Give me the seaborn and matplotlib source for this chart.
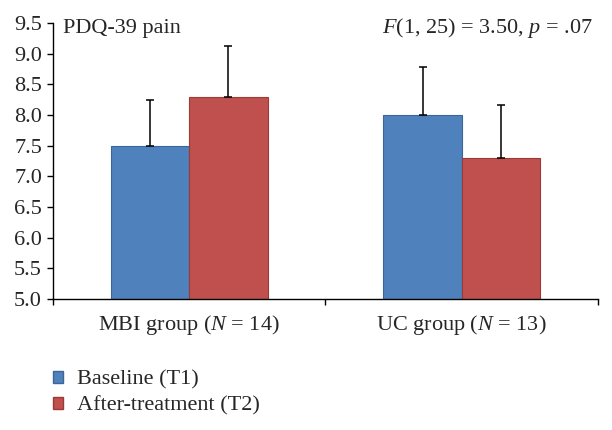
import matplotlib
matplotlib.use("Agg")
import matplotlib.pyplot as plt
import seaborn as sns
import pandas as pd
import numpy as np
from matplotlib.container import BarContainer
from matplotlib.patches import Patch

groups = ["MBI group ($N$ = 14)", "UC group ($N$ = 13)"]
conditions = ["Baseline (T1)", "After-treatment (T2)"]
baseline = [7.5, 8.0]
after = [8.3, 7.3]
baseline_sd = [0.75, 0.78]
after_sd = [0.82, 0.87]
colors = ["#4F81BD", "#C0504D"]
edge_colors = ["#3A6699", "#9A3B38"]

sns.set_theme(style="white")
plt.rcParams["font.family"] = ["Liberation Serif", "DejaVu Serif"]
plt.rcParams["mathtext.fontset"] = "custom"
plt.rcParams["mathtext.it"] = "Liberation Serif:italic"
plt.rcParams["mathtext.rm"] = "Liberation Serif"

FS = 16

df = pd.DataFrame({
    "group": groups * 2,
    "condition": [conditions[0]] * 2 + [conditions[1]] * 2,
    "value": baseline + after,
})

fig = plt.figure(figsize=(6.12, 4.30), dpi=100)
ax = fig.add_axes([0.0866, 0.3047, 0.8905, 0.642])

sns.barplot(data=df, x="group", y="value", hue="condition", palette=colors,
            width=0.575, ax=ax, legend=False, errorbar=None, saturation=1)

bar_containers = [c for c in ax.containers if isinstance(c, BarContainer)]
for ci, cont in enumerate(bar_containers):
    sds = baseline_sd if ci == 0 else after_sd
    vals = baseline if ci == 0 else after
    for bi, bar in enumerate(cont.patches):
        bar.set_edgecolor(edge_colors[ci])
        bar.set_linewidth(0.8)
        xc = bar.get_x() + bar.get_width() / 2
        ax.errorbar([xc], [vals[bi]], yerr=[[0], [sds[bi]]], fmt="none",
                    ecolor="black", elinewidth=1.1, capsize=2.8, capthick=1.1,
                    zorder=5)

ax.set_ylim(5.0, 9.5)
ax.set_xlim(-0.5, 1.5)
yt = np.arange(5.0, 9.51, 0.5)
ax.set_yticks(yt)
ax.set_yticklabels([f"{v:.1f}" for v in yt], fontsize=FS)
ax.set_xticks([0, 1])
ax.set_xticklabels(groups, fontsize=FS)
ax.set_xticks([-0.5, 0.5, 1.5], minor=True)
ax.tick_params(axis="x", which="major", length=0, pad=10)
ax.tick_params(axis="x", which="minor", length=4, width=1, color="black",
               direction="out", bottom=True)
ax.tick_params(axis="y", which="major", length=4, width=1, color="black",
               direction="out", pad=4, left=True)
ax.set_xlabel("")
ax.set_ylabel("")
for s in ["top", "right"]:
    ax.spines[s].set_visible(False)
for s in ["left", "bottom"]:
    ax.spines[s].set_color("black")
    ax.spines[s].set_linewidth(1.0)

ax.text(0.018, 0.964, "PDQ-39 pain", transform=ax.transAxes, fontsize=FS,
        ha="left", va="baseline")
ax.text(0.991, 0.964, "$F$(1, 25) = 3.50, $p$ = .07", transform=ax.transAxes,
        fontsize=FS, ha="right", va="baseline")

handles = [Patch(facecolor=colors[i], edgecolor=edge_colors[i], label=conditions[i])
           for i in range(2)]
fig.legend(handles=handles, loc="upper left", bbox_to_anchor=(0.086, 0.138),
           frameon=False, fontsize=FS, handlelength=0.45, handleheight=0.45,
           handletextpad=0.63, labelspacing=0.29, borderaxespad=0, borderpad=0)

fig.savefig("out.png", dpi=100)
